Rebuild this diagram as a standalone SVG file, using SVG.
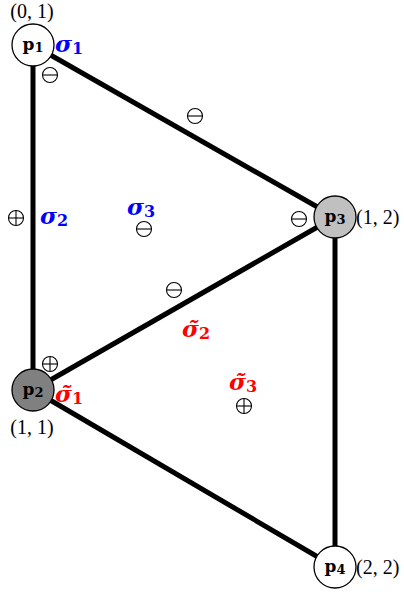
<svg xmlns="http://www.w3.org/2000/svg" width="404" height="592" viewBox="0 0 404 592">
<style>
.edge{stroke:#000;stroke-width:5;fill:none}
.node{stroke:#000;stroke-width:1.3}
.nl{font-family:"DejaVu Serif","Liberation Serif",serif;font-weight:bold;font-size:17px;text-anchor:middle}
.co{font-family:"Liberation Serif","DejaVu Serif",serif;font-size:20px}
.sg{font-family:"DejaVu Serif",serif;font-style:italic;font-weight:bold;font-size:23px}
.sub{font-style:normal;font-size:16px}
.sym circle{fill:none;stroke:#000;stroke-width:1.1}
.sym line{stroke:#000;stroke-width:1.1}
</style>
<defs>
<g id="minus" class="sym"><circle r="7.5"/><line x1="-7.5" y1="0" x2="7.5" y2="0"/></g>
<g id="plus" class="sym"><circle r="7.5"/><line x1="-7.5" y1="0" x2="7.5" y2="0"/><line x1="0" y1="-7.5" x2="0" y2="7.5"/></g>
</defs>
<g id="connectors">
<line class="edge" x1="33" y1="45" x2="33" y2="390"/>
<line class="edge" x1="33" y1="45" x2="335" y2="217"/>
<line class="edge" x1="33" y1="390" x2="335" y2="217"/>
<line class="edge" x1="33" y1="390" x2="335" y2="567"/>
<line class="edge" x1="335" y1="217" x2="335" y2="567"/>
</g>
<g id="p1">
<circle class="node" cx="33" cy="45" r="21" fill="#fff"/>
<text class="nl" x="33" y="50">p<tspan font-size="13" dy="2">1</tspan></text>
<text class="co" x="32" y="18" text-anchor="middle">(0, 1)</text>
</g>
<g id="p2">
<circle class="node" cx="33" cy="390" r="21" fill="#808080"/>
<text class="nl" x="33" y="395">p<tspan font-size="13" dy="2">2</tspan></text>
<text class="co" x="32" y="434" text-anchor="middle">(1, 1)</text>
</g>
<g id="p3">
<circle class="node" cx="335" cy="217" r="21" fill="#c0c0c0"/>
<text class="nl" x="335" y="222">p<tspan font-size="13" dy="2">3</tspan></text>
<text class="co" x="356" y="224">(1, 2)</text>
</g>
<g id="p4">
<circle class="node" cx="335" cy="567" r="21" fill="#fff"/>
<text class="nl" x="335" y="572">p<tspan font-size="13" dy="2">4</tspan></text>
<text class="co" x="356" y="574">(2, 2)</text>
</g>
<g id="labels">
<text class="sg" x="55" y="52" fill="#0000ff">σ<tspan class="sub" dy="2">1</tspan></text>
<text class="sg" x="40" y="224" fill="#0000ff">σ<tspan class="sub" dy="2">2</tspan></text>
<text class="sg" x="127" y="215" fill="#0000ff">σ<tspan class="sub" dy="2">3</tspan></text>
<text class="sg" x="55" y="402" fill="#ff0000">σ̃<tspan class="sub" dy="2">1</tspan></text>
<text class="sg" x="182" y="337" fill="#ff0000">σ̃<tspan class="sub" dy="2">2</tspan></text>
<text class="sg" x="229" y="390" fill="#ff0000">σ̃<tspan class="sub" dy="2">3</tspan></text>
</g>
<g id="signs">
<use href="#minus" x="50" y="75"/>
<use href="#minus" x="195" y="116"/>
<use href="#plus" x="16" y="218"/>
<use href="#minus" x="144" y="229"/>
<use href="#minus" x="299" y="219"/>
<use href="#minus" x="174" y="290"/>
<use href="#plus" x="50" y="364"/>
<use href="#plus" x="244" y="406"/>
</g>
</svg>
